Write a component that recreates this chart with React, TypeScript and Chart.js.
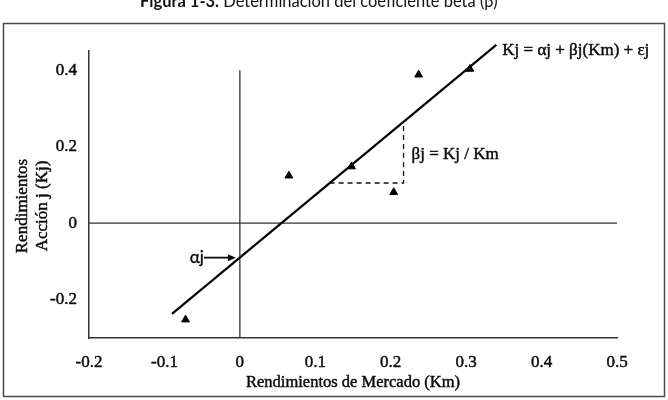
import React, { useEffect, useRef } from "react";
import { Chart, registerables } from "chart.js";

Chart.register(...registerables);

// ---- data (values in axis units) ----
const xTicks = [-0.2, -0.1, 0, 0.1, 0.2, 0.3, 0.4, 0.5];
const yTicks = [-0.2, 0, 0.2, 0.4];
const xRange = [-0.2, 0.5];
const yRange = [-0.3, 0.45];

const pointsKm = [-0.072, 0.065, 0.148, 0.204, 0.237, 0.305];
const pointsKj = [-0.252, 0.124, 0.148, 0.081, 0.388, 0.403];

const lineKm = [-0.09, 0.34];
const lineKj = [-0.237, 0.466];

const slopeKm = [0.119, 0.217, 0.217];
const slopeKj = [0.105, 0.105, 0.265];

const zeroHKm = [-0.2, 0.5];
const zeroHKj = [0, 0];
const zeroVKm = [0, 0];
const zeroVKj = [-0.3, 0.4];

const alphaValue = -0.09;

const titleBold = "Figura 1-3.";
const titleRest = " Determinación del coeficiente beta (β)";
const xTitle = "Rendimientos de Mercado (Km)";
const yTitle = ["Rendimientos", "Acción j (Kj)"];
const eqLabel = "Kj = αj + βj(Km) + εj";
const betaLabel = "βj = Kj / Km";
const alphaLabel = "αj";

const zip = (xs: number[], ys: number[]) => xs.map((x, i) => ({ x, y: ys[i] }));
const fmt = (v: number) => (Math.abs(v) < 1e-9 ? "0" : v.toFixed(1));

const SERIF = "'Liberation Serif', 'Times New Roman', serif";
const SANS = "Lato, 'Liberation Sans', sans-serif";
const INK = "#0a0a0a";
const STROKE = 0.45;

function heavyText(ctx: CanvasRenderingContext2D, t: string, x: number, y: number, w = STROKE) {
  ctx.lineWidth = w;
  ctx.lineJoin = "round";
  ctx.strokeStyle = INK;
  ctx.fillStyle = INK;
  ctx.strokeText(t, x, y);
  ctx.fillText(t, x, y);
}

const decorPlugin = {
  id: "decor",
  beforeDraw(chart: any) {
    const { ctx } = chart;
    ctx.save();
    ctx.fillStyle = "#ffffff";
    ctx.fillRect(0, 0, chart.width, chart.height);
    // outer frame
    ctx.strokeStyle = "#4a4a4a";
    ctx.lineWidth = 1.5;
    ctx.strokeRect(3.5, 23.5, 661, 373);
    // title (partially cut at top)
    ctx.fillStyle = "#111";
    ctx.textBaseline = "alphabetic";
    ctx.textAlign = "left";
    const base = 14;
    ctx.font = `bold ${base}px ${SANS}`;
    const wb = ctx.measureText(titleBold).width;
    ctx.font = `${base}px ${SANS}`;
    const wr = ctx.measureText(titleRest).width;
    const size = (base * 358) / (wb + wr);
    const x0 = 140;
    ctx.font = `bold ${size}px ${SANS}`;
    ctx.fillText(titleBold, x0, 7);
    const wb2 = ctx.measureText(titleBold).width;
    ctx.font = `${size}px ${SANS}`;
    ctx.fillText(titleRest, x0 + wb2, 7);
    ctx.restore();
  },
  afterDatasetsDraw(chart: any) {
    const { ctx, scales, chartArea } = chart;
    const xs = scales.x;
    const ys = scales.y;
    const px = (v: number) => xs.getPixelForValue(v);
    const py = (v: number) => ys.getPixelForValue(v);
    ctx.save();
    ctx.font = `17px ${SERIF}`;
    ctx.textBaseline = "middle";
    ctx.textAlign = "left";
    // equation label near the end of the line
    heavyText(ctx, eqLabel, px(lineKm[1]) + 6, py(lineKj[1]) + 6);
    // beta label next to the dashed triangle
    heavyText(ctx, betaLabel, px(slopeKm[2]) + 8, py((slopeKj[0] + slopeKj[2]) / 2) + 2);
    // alpha label with arrow pointing to intercept
    const ay = py(alphaValue);
    const ax = px(0);
    ctx.font = `17px ${SANS}`;
    ctx.textAlign = "right";
    heavyText(ctx, alphaLabel, ax - 36, ay, 0.35);
    ctx.strokeStyle = INK;
    ctx.fillStyle = INK;
    ctx.lineWidth = 1.8;
    ctx.beginPath();
    ctx.moveTo(ax - 36, ay);
    ctx.lineTo(ax - 10, ay);
    ctx.stroke();
    ctx.beginPath();
    ctx.moveTo(ax - 4, ay);
    ctx.lineTo(ax - 12, ay - 3.5);
    ctx.lineTo(ax - 12, ay + 3.5);
    ctx.closePath();
    ctx.fill();
    // x axis title
    ctx.font = `16.5px ${SERIF}`;
    ctx.textAlign = "center";
    heavyText(ctx, xTitle, (chartArea.left + chartArea.right) / 2, 383);
    // y axis title (two rotated lines)
    ctx.font = `17px ${SERIF}`;
    yTitle.forEach((t, i) => {
      ctx.save();
      ctx.translate(23 + i * 19.5, 206);
      ctx.rotate(-Math.PI / 2);
      heavyText(ctx, t, 0, 0);
      ctx.restore();
    });
    ctx.restore();
  },
};

export default function App() {
  const ref = useRef<HTMLCanvasElement>(null);
  useEffect(() => {
    document.body.style.margin = "0";
    const canvas = ref.current!;
    const tickFont = { family: SERIF, size: 17 };
    const chart = new Chart(canvas, {
      type: "scatter",
      data: {
        datasets: [
          {
            label: "Observaciones",
            data: zip(pointsKm, pointsKj),
            pointStyle: "triangle",
            pointRadius: 4.5,
            backgroundColor: "#000",
            borderColor: "#000",
            borderWidth: 1,
            showLine: false,
            clip: false,
          },
          {
            label: "Recta",
            data: zip(lineKm, lineKj),
            showLine: true,
            pointRadius: 0,
            borderColor: "#000",
            borderWidth: 2.2,
            clip: false,
          },
          {
            label: "Pendiente",
            data: zip(slopeKm, slopeKj),
            showLine: true,
            pointRadius: 0,
            borderColor: "#111",
            borderWidth: 1.3,
            borderDash: [5, 4],
            clip: false,
          },
          {
            label: "Eje H",
            data: zip(zeroHKm, zeroHKj),
            showLine: true,
            pointRadius: 0,
            borderColor: "#333",
            borderWidth: 1.3,
            clip: false,
          },
          {
            label: "Eje V",
            data: zip(zeroVKm, zeroVKj),
            showLine: true,
            pointRadius: 0,
            borderColor: "#333",
            borderWidth: 1.3,
            clip: false,
          },
        ] as any,
      },
      options: {
        responsive: false,
        animation: false,
        layout: { padding: { top: 51, right: 51, left: 0, bottom: 0 } },
        plugins: {
          legend: { display: false },
          tooltip: { enabled: false },
          title: { display: false },
        },
        scales: {
          x: {
            type: "linear",
            min: xRange[0],
            max: xRange[1],
            afterBuildTicks: (s: any) => {
              s.ticks = xTicks.map((v) => ({ value: v }));
            },
            afterFit: (s: any) => {
              s.height = 62;
            },
            grid: { display: false, drawTicks: false },
            border: { display: true, color: "#333", width: 1.5 },
            ticks: {
              padding: 14,
              color: INK,
              textStrokeColor: INK,
              textStrokeWidth: STROKE,
              autoSkip: false,
              maxRotation: 0,
              font: tickFont,
              callback: (v: any) => fmt(Number(v)),
            },
          },
          y: {
            type: "linear",
            min: yRange[0],
            max: yRange[1],
            afterBuildTicks: (s: any) => {
              s.ticks = yTicks.map((v) => ({ value: v }));
            },
            afterFit: (s: any) => {
              s.width = 89;
            },
            grid: { display: false, drawTicks: false },
            border: { display: true, color: "#333", width: 1.5 },
            ticks: {
              padding: 12,
              color: INK,
              textStrokeColor: INK,
              textStrokeWidth: STROKE,
              font: tickFont,
              callback: (v: any) => fmt(Number(v)),
            },
          },
        },
      } as any,
      plugins: [decorPlugin],
    });
    return () => chart.destroy();
  }, []);
  return (
    <canvas
      ref={ref}
      width={668}
      height={400}
      style={{ display: "block", width: 668, height: 400 }}
    />
  );
}
